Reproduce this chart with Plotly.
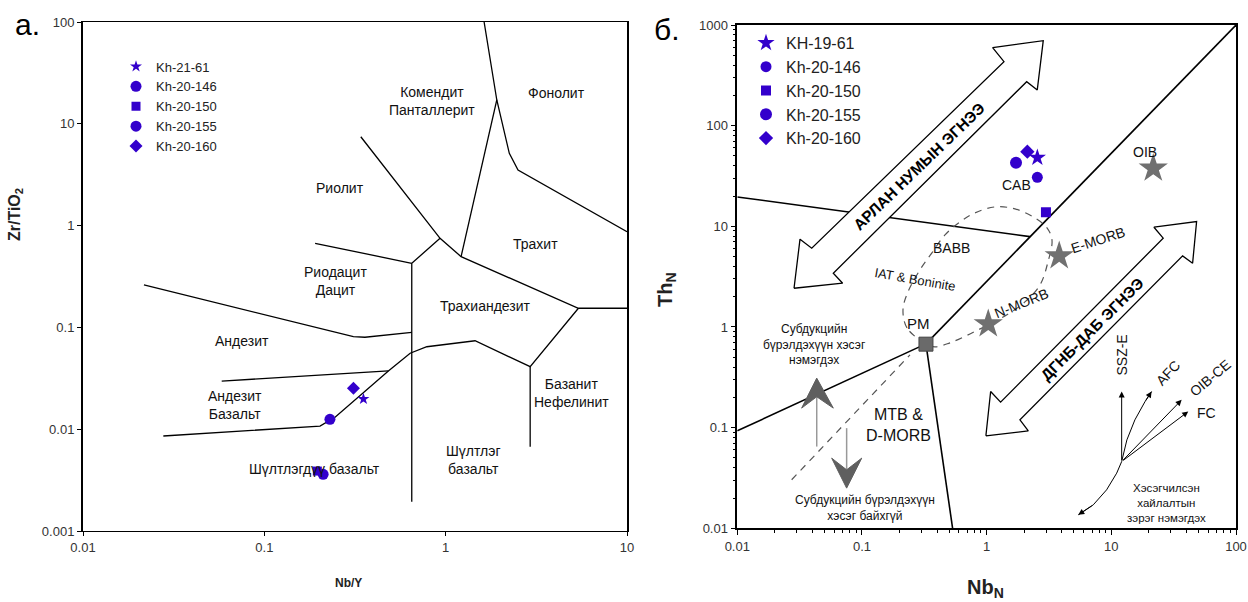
import plotly.graph_objects as go

BLUE = "#3300cc"
FONT = "Arial, 'Liberation Sans', sans-serif"

# ---------------- data: panel a (Zr/TiO2 vs Nb/Y) ----------------
left_samples = ["Kh-21-61", "Kh-20-146", "Kh-20-150", "Kh-20-155", "Kh-20-160"]
left_symbols = ["star", "circle", "square", "circle", "diamond"]
left_sizes = [9, 11, 9, 11, 10]
left_nb_y = [0.352, 0.230, 0.196, 0.211, 0.310]
left_zr_ti = [0.0198, 0.0125, 0.00388, 0.0036, 0.0252]

# field boundaries (log10 Nb/Y, log10 Zr/TiO2)
wf_lines = [
    [(0.212, 2.0), (0.282, 1.234), (0.351, 0.710), (0.399, 0.546), (1.0, -0.060)],
    [(0.282, 1.234), (0.085, -0.305)],
    [(-0.468, 0.873), (-0.031, -0.125), (0.085, -0.305), (0.732, -0.812), (1.0, -0.812)],
    [(-0.031, -0.125), (-0.187, -0.370), (-0.187, -2.712)],
    [(-0.720, -0.174), (-0.187, -0.370)],
    [(-1.664, -0.583), (-0.509, -1.091), (-0.445, -1.097), (-0.187, -1.048)],
    [(-1.235, -1.527), (-0.316, -1.428)],
    [(-1.557, -2.067), (-0.693, -1.969), (-0.610, -1.883), (-0.316, -1.428), (-0.196, -1.254),
     (-0.104, -1.190), (0.162, -1.131), (0.466, -1.386), (0.732, -0.812)],
    [(0.466, -1.386), (0.466, -2.172)],
]
left_labels = [
    ("Комендит<br>Панталлерит", -0.077, 1.224),
    ("Фонолит", 0.609, 1.300),
    ("Риолит", -0.582, 0.372),
    ("Трахит", 0.493, -0.184),
    ("Риодацит<br>Дацит", -0.605, -0.544),
    ("Трахиандезит", 0.217, -0.790),
    ("Андезит", -1.125, -1.131),
    ("Андезит<br>Базальт", -1.162, -1.767),
    ("Базанит<br>Нефелинит", 0.696, -1.641),
    ("Шүлтлэг<br>базальт", 0.153, -2.303),
    ("Шүлтлэгдүү базальт", -0.726, -2.394),
]

# ---------------- data: panel б (Th_N vs Nb_N) ----------------
right_samples = ["KH-19-61", "Kh-20-146", "Kh-20-150", "Kh-20-155", "Kh-20-160"]
right_symbols = ["star", "circle", "square", "circle", "diamond"]
right_sizes = [13, 11, 10, 12, 11]
right_nb = [2.55, 2.55, 2.99, 1.72, 2.12]
right_th = [48.1, 30.7, 13.8, 42.9, 55.2]

ref_names = ["N-MORB", "E-MORB", "OIB"]
ref_nb = [1.03, 3.82, 21.7]
ref_th = [1.07, 5.08, 37.7]
pm_nb = [0.326]
pm_th = [0.675]

# solid boundaries (log10)
pt_lines = [
    [(-2.0, -1.032), (-0.487, -0.168)],
    [(-0.487, -0.168), (2.0, 3.0)],
    [(-0.487, -0.168), (-0.273, -2.0)],
    [(-2.0, 1.292), (0.347, 0.898)],
]
pt_dashed_line = [(-1.564, -1.518), (-0.615, -0.277)]
pt_loop = [(-0.487, -0.168), (-0.639, -0.009), (-0.671, 0.170), (-0.631, 0.349), (-0.535, 0.567),
           (-0.439, 0.736), (-0.334, 0.915), (-0.214, 1.044), (-0.094, 1.133), (0.067, 1.193),
           (0.227, 1.173), (0.387, 1.083), (0.484, 0.984), (0.524, 0.865), (0.492, 0.647),
           (0.428, 0.418), (0.307, 0.249), (0.147, 0.110), (0.011, 0.021), (-0.134, -0.069),
           (-0.295, -0.158), (-0.415, -0.198), (-0.487, -0.168)]
arrow_arc = [(-1.545, 0.385), (-1.497, 0.872), (-1.403, 0.783), (0.139, 2.636), (0.048, 2.775),
             (0.454, 2.844), (0.406, 2.355), (0.321, 2.437), (-1.230, 0.534), (-1.155, 0.435),
             (-1.545, 0.385)]
arrow_morb = [(-0.006, -1.081), (0.032, -0.641), (0.112, -0.747), (1.416, 0.882), (1.342, 0.991),
              (1.684, 1.047), (1.652, 0.634), (1.572, 0.706), (0.267, -0.923), (0.334, -1.032),
              (-0.006, -1.081)]
gray_up_head = [(-1.363, -0.508), (-1.484, -0.806), (-1.363, -0.693), (-1.230, -0.806), (-1.363, -0.508)]
gray_up_shaft = [(-1.363, -0.693), (-1.363, -1.188)]
gray_dn_head = [(-1.123, -1.601), (-1.243, -1.303), (-1.123, -1.419), (-1.002, -1.303), (-1.123, -1.601)]
gray_dn_shaft = [(-1.123, -1.005), (-1.123, -1.419)]

fan_origin = (1.083, -1.337)
fan_straight = [(1.083, -0.641), (1.564, -0.724), (1.617, -0.840)]
afc_curve = [(1.083, -1.337), (1.125, -1.121), (1.189, -0.923), (1.269, -0.744), (1.323, -0.641)]
melt_curve = [(1.083, -1.337), (1.043, -1.452), (0.962, -1.618), (0.855, -1.767), (0.735, -1.866)]

right_labels = [
    ("OIB", 1.269, 1.742, 0, 14),
    ("CAB", 0.241, 1.411, 0, 14),
    ("BABB", -0.281, 0.782, 0, 14),
    ("E-MORB", 0.893, 0.865, -18, 14),
    ("N-MORB", 0.283, 0.239, -22, 14),
    ("IAT & Boninite", -0.575, 0.468, 10, 13),
    ("PM", -0.548, 0.038, 0, 15),
    ("MTB &<br>D-MORB", -0.709, -0.972, 0, 16),
    ("Субдукцийн<br>бүрэлдэхүүн хэсэг<br>нэмэгдэх", -1.377, -0.178, 0, 12),
    ("Субдукцийн бүрэлдэхүүн<br>хэсэг байхгүй", -0.976, -1.799, 0, 12),
    ("SSZ-E", 1.083, -0.277, -90, 14),
    ("AFC", 1.454, -0.456, -47, 14),
    ("OIB-CE", 1.791, -0.505, -40, 14),
    ("FC", 1.764, -0.853, 0, 14),
    ("Хэсэгчилсэн<br>хайлалтын<br>зэрэг нэмэгдэх", 1.443, -1.747, 0, 11.5),
]

fig = go.Figure()


def poly(points, xa, ya, **kw):
    fig.add_trace(go.Scatter(x=[10 ** p[0] for p in points], y=[10 ** p[1] for p in points],
                             xaxis=xa, yaxis=ya, mode="lines", showlegend=False,
                             hoverinfo="skip", **kw))


# ---- panel a ----
for ln in wf_lines:
    poly(ln, "x", "y", line=dict(color="black", width=1.3))

for name, sym, sz, xv, yv in zip(left_samples, left_symbols, left_sizes, left_nb_y, left_zr_ti):
    fig.add_trace(go.Scatter(x=[xv], y=[yv], xaxis="x", yaxis="y", mode="markers", name=name,
                             legend="legend",
                             marker=dict(symbol=sym, size=sz, color=BLUE, line=dict(width=0))))

# ---- panel б ----
for ln in pt_lines:
    poly(ln, "x2", "y2", line=dict(color="black", width=1.6))
poly(pt_dashed_line, "x2", "y2", line=dict(color="#555555", width=1.2, dash="7px,6px"))
poly(pt_loop, "x2", "y2", line=dict(color="#555555", width=1.2, dash="7px,6px", shape="spline"))

for arr in (arrow_arc, arrow_morb):
    poly(arr, "x2", "y2", line=dict(color="black", width=1.3), fill="toself", fillcolor="white")

poly(gray_up_shaft, "x2", "y2", line=dict(color="#999999", width=1.5))
poly(gray_dn_shaft, "x2", "y2", line=dict(color="#999999", width=1.5))
poly(gray_up_head, "x2", "y2", line=dict(color="#5f5f5f", width=1), fill="toself", fillcolor="#5f5f5f")
poly(gray_dn_head, "x2", "y2", line=dict(color="#5f5f5f", width=1), fill="toself", fillcolor="#5f5f5f")

poly(afc_curve, "x2", "y2", line=dict(color="black", width=1))
poly(melt_curve, "x2", "y2", line=dict(color="black", width=1))

fig.add_trace(go.Scatter(x=ref_nb, y=ref_th, xaxis="x2", yaxis="y2", mode="markers", showlegend=False,
                         hoverinfo="skip",
                         marker=dict(symbol="star", size=22, color="#707070", line=dict(width=0))))
fig.add_trace(go.Scatter(x=pm_nb, y=pm_th, xaxis="x2", yaxis="y2", mode="markers", showlegend=False,
                         hoverinfo="skip",
                         marker=dict(symbol="square", size=14, color="#6a6a6a",
                                     line=dict(width=1, color="#444444"))))

for name, sym, sz, xv, yv in zip(right_samples, right_symbols, right_sizes, right_nb, right_th):
    fig.add_trace(go.Scatter(x=[xv], y=[yv], xaxis="x2", yaxis="y2", mode="markers", name=name,
                             legend="legend2",
                             marker=dict(symbol=sym, size=sz, color=BLUE, line=dict(width=0))))

ann = []
for txt, lx, ly in left_labels:
    ann.append(dict(text=txt, x=lx, y=ly, xref="x", yref="y", showarrow=False,
                    font=dict(size=14, color="#111111", family=FONT)))
for txt, lx, ly, ang, fs in right_labels:
    ann.append(dict(text=txt, x=lx, y=ly, xref="x2", yref="y2", showarrow=False, textangle=ang,
                    font=dict(size=fs, color="#111111", family=FONT)))

# hollow-arrow captions
ann.append(dict(text="<b>АРЛАН НУМЫН ЭГНЭЭ</b>", x=-0.544, y=1.598, xref="x2", yref="y2",
                showarrow=False, textangle=-44, font=dict(size=15.5, color="black", family=FONT)))
ann.append(dict(text="<b>ДГНБ-ДАБ ЭГНЭЭ</b>", x=0.842, y=-0.021, xref="x2", yref="y2",
                showarrow=False, textangle=-45, font=dict(size=15.5, color="black", family=FONT)))

# fan arrows
for hx, hy in fan_straight:
    ann.append(dict(x=hx, y=hy, ax=fan_origin[0], ay=fan_origin[1], xref="x2", yref="y2",
                    axref="x2", ayref="y2", showarrow=True, arrowhead=2, arrowsize=1.2,
                    arrowwidth=1, arrowcolor="black", text=""))
for crv in (afc_curve, melt_curve):
    ann.append(dict(x=crv[-1][0], y=crv[-1][1], ax=crv[-2][0], ay=crv[-2][1], xref="x2", yref="y2",
                    axref="x2", ayref="y2", showarrow=True, arrowhead=2, arrowsize=1.2,
                    arrowwidth=1, arrowcolor="black", text=""))


def paper_text(txt, px, py, size, angle=0, color="#222222"):
    return dict(text=txt, x=px / 1248, y=1 - py / 602, xref="paper", yref="paper",
                xanchor="center", yanchor="middle", showarrow=False, textangle=angle,
                font=dict(size=size, color=color, family=FONT))


# titles / panel letters
ann += [
    paper_text("а.", 27, 24, 30, color="black"),
    paper_text("б.", 667, 29, 30, color="black"),
    paper_text("<b>Nb/Y</b>", 348, 583, 12),
    paper_text("<b>Zr/TiO<sub>2</sub></b>", 15, 215, 16, angle=-90),
    paper_text("<b>Th<sub>N</sub></b>", 667, 290, 20, angle=-90),
    paper_text("<b>Nb<sub>N</sub></b>", 985, 588, 20),
]

left_axis_common = dict(type="log", showgrid=False, zeroline=False, showline=True, mirror=True,
                        linecolor="black", ticks="outside", ticklen=4, tickcolor="black",
                        tickfont=dict(size=13, color="#333333", family=FONT), automargin=False,
                        tickmode="linear", tick0=0, dtick=1, exponentformat="none")
right_axis_common = dict(type="log", showgrid=False, zeroline=False, showline=True, mirror=True,
                         linecolor="black", linewidth=1.5, ticks="outside", ticklen=5,
                         tickcolor="black", automargin=False,
                         tickfont=dict(size=13, color="#333333", family=FONT),
                         tickmode="linear", tick0=0, dtick=1, exponentformat="none",
                         minor=dict(ticks="outside", ticklen=3, tickcolor="black", dtick="D1",
                                    showgrid=False))

fig.update_layout(
    width=1248, height=602,
    margin=dict(l=0, r=0, t=0, b=0, autoexpand=False),
    paper_bgcolor="white", plot_bgcolor="white",
    font=dict(family=FONT),
    xaxis=dict(domain=[83 / 1248, 627 / 1248], range=[-2, 1], anchor="y", linewidth=1.2,
               **left_axis_common),
    yaxis=dict(domain=[1 - 531 / 602, 1 - 22 / 602], range=[-3, 2], anchor="x", linewidth=2,
               **left_axis_common),
    xaxis2=dict(domain=[737.3 / 1248, 1236 / 1248], range=[-2, 2], anchor="y2", **right_axis_common),
    yaxis2=dict(domain=[1 - 528.3 / 602, 1 - 25 / 602], range=[-2, 3], anchor="x2", **right_axis_common),
    legend=dict(x=116 / 1248, y=1 - 51.5 / 602, xanchor="left", yanchor="top",
                bgcolor="rgba(0,0,0,0)", font=dict(size=13, color="#222222", family=FONT),
                itemsizing="trace", tracegroupgap=0),
    legend2=dict(x=746 / 1248, y=1 - 26 / 602, xanchor="left", yanchor="top",
                 bgcolor="rgba(0,0,0,0)", font=dict(size=16, color="#222222", family=FONT),
                 itemsizing="trace", tracegroupgap=0),
    annotations=ann,
    showlegend=True,
)

fig.write_html("out.html", config={"displayModeBar": False},
               post_script="document.body.style.margin='0px';")
